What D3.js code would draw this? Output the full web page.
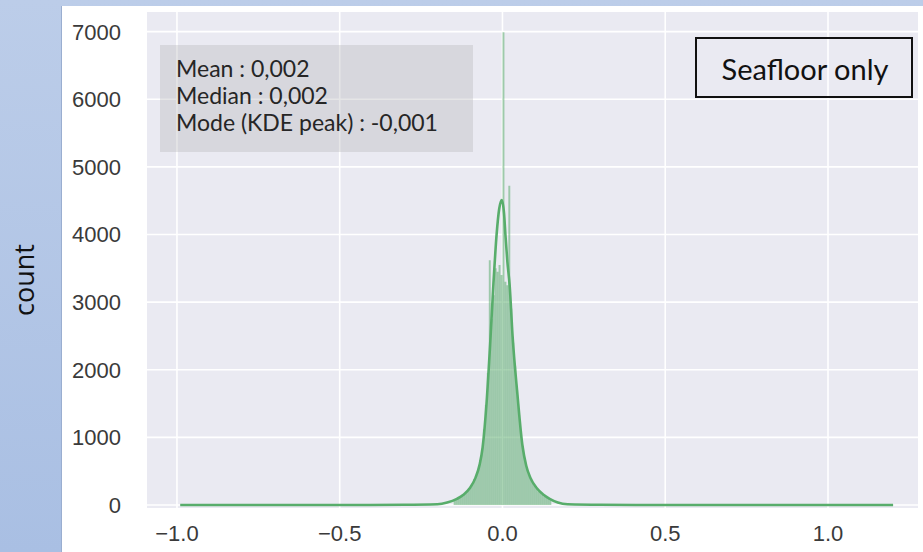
<!DOCTYPE html>
<html>
<head>
<meta charset="UTF-8">
<title>Seafloor only histogram</title>
<script src="https://d3js.org/d3.v7.min.js"></script>
<style>
  body { margin: 0; padding: 0; background: #fff; }
  svg { display: block; }
</style>
</head>
<body>
<script>
// histogram bins (left edge) and counts
var binLeft = [-0.150, -0.144, -0.138, -0.132, -0.126, -0.120, -0.114, -0.108, -0.102, -0.096,
               -0.090, -0.084, -0.078, -0.072, -0.066, -0.060, -0.054, -0.048, -0.042, -0.036,
               -0.030, -0.024, -0.018, -0.012, -0.006, 0.000, 0.006, 0.012, 0.018, 0.024,
               0.030, 0.036, 0.042, 0.048, 0.054, 0.060, 0.066, 0.072, 0.078, 0.084,
               0.090, 0.096, 0.102, 0.108, 0.114, 0.120, 0.126, 0.132, 0.138, 0.144];
var binWidth = 0.006;
var binCount = [70, 90, 105, 120, 140, 160, 185, 220, 250, 300,
                380, 430, 510, 660, 830, 1120, 1480, 1950, 3620, 2750,
                3100, 3500, 3450, 3550, 3400, 6990, 3300, 3250, 4720, 2900,
                2400, 2050, 1700, 1330, 1060, 800, 640, 540, 460, 390,
                320, 280, 240, 200, 180, 150, 125, 105, 90, 70];

// KDE curve (scaled to counts)
var kdeX = [-0.99, -0.5, -0.3, -0.2, -0.17, -0.14, -0.12, -0.1, -0.083, -0.07, -0.061, -0.049,
            -0.037, -0.028, -0.018, -0.01, -0.002, 0.005, 0.009, 0.015, 0.022, 0.031, 0.046,
            0.061, 0.073, 0.086, 0.105, 0.126, 0.145, 0.17, 0.2, 0.3, 0.5, 1.0, 1.2];
var kdeY = [0, 0, 2, 10, 35, 90, 150, 250, 400, 600, 850, 1500,
            2450, 3250, 4000, 4380, 4510, 4300, 4000, 3600, 3250, 2500, 1630,
            890, 580, 400, 250, 150, 90, 35, 10, 2, 0, 0, 0];

var xTicks = [-1.0, -0.5, 0.0, 0.5, 1.0];
var yTicks = [0, 1000, 2000, 3000, 4000, 5000, 6000, 7000];
var stats = ["Mean : 0,002", "Median : 0,002", "Mode (KDE peak) : -0,001"];
var tag = "Seafloor only";

var W = 923, H = 552;
var pLeft = 147, pRight = 918, pTop = 12, pBottom = 508;
var green = "#55a868";

var svg = d3.select("body").append("svg")
    .attr("width", W)
    .attr("height", H);

// blue slide background
var grad = svg.append("defs").append("linearGradient")
    .attr("id", "bg").attr("x1", 0).attr("y1", 0).attr("x2", 0).attr("y2", 1);
grad.append("stop").attr("offset", 0).attr("stop-color", "#bccde9");
grad.append("stop").attr("offset", 1).attr("stop-color", "#a9bfe3");
svg.append("rect").attr("width", W).attr("height", H).attr("fill", "url(#bg)");
svg.append("rect").attr("x", 61).attr("y", 6).attr("width", W - 61).attr("height", H - 6)
    .attr("fill", "#fff");
svg.append("line").attr("x1", 61.5).attr("x2", 61.5).attr("y1", 6).attr("y2", H)
    .attr("stroke", "#9aaed0").attr("stroke-width", 1);

var x = d3.scaleLinear().domain([-1.092, 1.2765]).range([pLeft, pRight]);
var y = d3.scaleLinear().domain([-45, 7290]).range([pBottom, pTop]);

// plot area + grid
svg.append("rect")
    .attr("x", pLeft).attr("y", pTop)
    .attr("width", pRight - pLeft).attr("height", pBottom - pTop)
    .attr("fill", "#eaeaf2");

svg.append("g").selectAll("line").data(xTicks).enter().append("line")
    .attr("x1", function(d) { return x(d); })
    .attr("x2", function(d) { return x(d); })
    .attr("y1", pTop).attr("y2", pBottom)
    .attr("stroke", "#fff").attr("stroke-width", 1.6);

svg.append("g").selectAll("line").data(yTicks).enter().append("line")
    .attr("x1", pLeft).attr("x2", pRight)
    .attr("y1", function(d) { return y(d); })
    .attr("y2", function(d) { return y(d); })
    .attr("stroke", "#fff").attr("stroke-width", 1.6);

// histogram as one stepped area (no seams between thin bars)
var steps = binCount.map(function(d, i) { return [binLeft[i], d]; });
steps.push([binLeft[binLeft.length - 1] + binWidth, binCount[binCount.length - 1]]);
var histArea = d3.area()
    .x(function(d) { return x(d[0]); })
    .y0(y(0))
    .y1(function(d) { return y(d[1]); })
    .curve(d3.curveStepAfter);
svg.append("path").datum(steps)
    .attr("d", histArea)
    .attr("fill", green).attr("fill-opacity", 0.52);

// faint bar edges
svg.append("g").selectAll("line").data(binCount).enter().append("line")
    .attr("x1", function(d, i) { return x(binLeft[i]); })
    .attr("x2", function(d, i) { return x(binLeft[i]); })
    .attr("y1", y(0))
    .attr("y2", function(d, i) { return y(Math.min(d, i > 0 ? binCount[i - 1] : d)); })
    .attr("stroke", "#fff").attr("stroke-opacity", 0.12).attr("stroke-width", 0.5);

// kde line
var line = d3.line()
    .x(function(d, i) { return x(kdeX[i]); })
    .y(function(d) { return y(d); })
    .curve(d3.curveMonotoneX);
svg.append("path").datum(kdeY)
    .attr("d", line)
    .attr("fill", "none")
    .attr("stroke", "#58ad6b").attr("stroke-width", 2.6);

// tick labels
svg.append("g").selectAll("text").data(yTicks).enter().append("text")
    .attr("x", 121)
    .attr("y", function(d) { return y(d) + 8; })
    .attr("text-anchor", "end")
    .attr("font-family", "Liberation Sans, Arial, sans-serif")
    .attr("font-size", "22px")
    .attr("fill", "#3a3a3a")
    .text(function(d) { return d; });

svg.append("g").selectAll("text").data(xTicks).enter().append("text")
    .attr("x", function(d) { return x(d); })
    .attr("y", 541)
    .attr("text-anchor", "middle")
    .attr("font-family", "Liberation Sans, Arial, sans-serif")
    .attr("font-size", "22px")
    .attr("fill", "#3a3a3a")
    .text(function(d) { return d3.format(".1f")(d).replace("-", "\u2212"); });

// y axis title on the slide
svg.append("text")
    .attr("transform", "translate(34,280) rotate(-90)")
    .attr("text-anchor", "middle")
    .attr("font-family", "Open Sans, sans-serif")
    .attr("font-size", "27px")
    .attr("fill", "#111")
    .text("count");

// stats box
svg.append("rect")
    .attr("x", 160).attr("y", 45).attr("width", 313).attr("height", 107)
    .attr("fill", "#b4b4b8").attr("fill-opacity", 0.35);
svg.append("g").selectAll("text").data(stats).enter().append("text")
    .attr("x", 176)
    .attr("y", function(d, i) { return 77 + i * 27; })
    .attr("font-family", "Lato, sans-serif")
    .attr("font-size", "23px")
    .attr("fill", "#262626")
    .text(function(d) { return d; });

// label box
svg.append("rect")
    .attr("x", 696).attr("y", 38).attr("width", 216).attr("height", 59)
    .attr("fill", "none").attr("stroke", "#111").attr("stroke-width", 2);
svg.append("text")
    .attr("x", 805).attr("y", 80)
    .attr("text-anchor", "middle")
    .attr("font-family", "Lato, sans-serif")
    .attr("font-size", "29px")
    .attr("fill", "#111")
    .text(tag);
</script>
</body>
</html>
